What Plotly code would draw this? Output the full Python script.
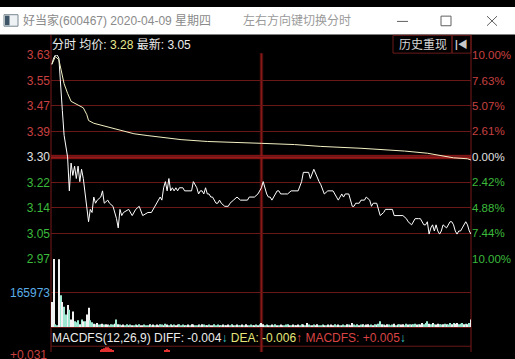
import plotly.graph_objects as go

# ---------------- data ----------------
PREV_CLOSE = 3.30
PRICE_TICKS = [3.63, 3.5475, 3.465, 3.3825, 3.30, 3.2175, 3.135, 3.0525, 2.97]
PRICE_TICK_TEXT = ["3.63", "3.55", "3.47", "3.39", "3.30", "3.22", "3.14", "3.05", "2.97"]
PCT_TICK_TEXT = ["10.00%", "7.63%", "5.07%", "2.61%", "0.00%", "2.42%", "4.88%", "7.44%", "10.00%"]

PRICE_MIN = [0, 1, 2, 3, 4, 5, 6, 7, 8, 9, 10, 11, 12, 13, 14, 15, 16, 17, 18, 19, 20, 21, 22, 23,
             24, 25, 26, 28, 29, 30, 32, 33, 35, 37, 38, 39, 40, 41, 44, 46, 48, 50, 52, 55, 57,
             58, 61, 62, 63, 64, 65, 66, 67, 68, 69, 70, 71, 72, 73, 75, 76, 78, 80, 81, 82, 83,
             84, 85, 86, 87, 88, 89, 90, 91, 92, 93, 94, 95, 96, 97, 99, 101, 102, 104, 106, 108,
             110, 112, 113, 114, 116, 118, 120, 121, 122, 123, 124, 125, 126, 127, 129, 130, 131,
             133, 135, 137, 139, 141, 143, 144, 147, 148, 150, 152, 153, 154, 156, 158, 160, 161,
             163, 164, 165, 166, 167, 168, 169, 170, 172, 173, 174, 176, 177, 179, 180, 182, 183,
             184, 186, 187, 188, 190, 191, 193, 195, 196, 198, 201, 203, 204, 206, 207, 208, 210,
             211, 213, 214, 215, 216, 217, 218, 219, 220, 221, 222, 223, 224, 226, 227, 228, 229,
             230, 231, 232, 233, 234, 235, 236, 237, 238, 239, 240]
PRICE_VAL = [3.60, 3.62, 3.63, 3.63, 3.62, 3.55, 3.45, 3.37, 3.33, 3.30, 3.19, 3.28, 3.24, 3.27, 3.23,
             3.27, 3.22, 3.26, 3.23, 3.18, 3.15, 3.09, 3.13, 3.12,
             3.17, 3.15, 3.16, 3.17, 3.19, 3.15, 3.16, 3.15, 3.14, 3.10, 3.07, 3.13, 3.11, 3.12,
             3.13, 3.11, 3.13, 3.14, 3.11, 3.12, 3.12,
             3.13, 3.16, 3.17, 3.16, 3.20, 3.22, 3.19, 3.23, 3.19, 3.20, 3.19, 3.20, 3.19, 3.20,
             3.20, 3.19, 3.19, 3.19, 3.22, 3.21, 3.20,
             3.18, 3.19, 3.19, 3.18, 3.20, 3.18, 3.18, 3.17, 3.17, 3.16, 3.15, 3.15, 3.16, 3.15,
             3.14, 3.14, 3.15, 3.16, 3.17, 3.16,
             3.16, 3.16, 3.17, 3.17, 3.17, 3.18, 3.20, 3.22, 3.20, 3.18, 3.17, 3.17, 3.16, 3.17,
             3.19, 3.19, 3.18,
             3.18, 3.18, 3.19, 3.19, 3.19, 3.22, 3.25, 3.25, 3.23, 3.26, 3.23, 3.22, 3.21, 3.18,
             3.19, 3.19, 3.19,
             3.17, 3.16, 3.17, 3.18, 3.17, 3.18, 3.18, 3.18, 3.14, 3.14, 3.15, 3.15, 3.16, 3.16,
             3.17, 3.16, 3.14,
             3.15, 3.15, 3.13, 3.11, 3.12, 3.13, 3.13, 3.13, 3.11, 3.11, 3.11, 3.10, 3.09, 3.08,
             3.09, 3.10, 3.10,
             3.10, 3.08, 3.08, 3.09, 3.05, 3.07, 3.08, 3.06, 3.08, 3.06, 3.05, 3.06, 3.08, 3.07,
             3.08, 3.09, 3.09,
             3.08, 3.06, 3.05, 3.06, 3.06, 3.07, 3.08, 3.09, 3.08, 3.06, 3.05]

AVG_MIN = [0, 2, 4, 5, 7, 9, 11, 15, 18, 20, 21, 24, 28, 35, 40, 47, 55, 68, 74, 89, 101, 120,
           139, 154, 177, 196, 202, 215, 225, 230, 238, 240]
AVG_VAL = [3.600, 3.625, 3.615, 3.590, 3.537, 3.506, 3.480, 3.468, 3.459, 3.437, 3.418, 3.409,
           3.403, 3.393, 3.384, 3.375, 3.369, 3.359, 3.356, 3.350, 3.347, 3.344, 3.340, 3.334,
           3.328, 3.322, 3.319, 3.312, 3.303, 3.297, 3.294, 3.290]

VOL_MID = 165973
VOL_MAX = 331946
VOLUME = [
    122000, 331000, 14000, 9000, 330000, 154000, 122000, 98000, 61000, 107000, 84000, 37000,
    75000, 28000, 23000, 33000, 14000, 37000, 28000, 28000, 61000, 94000, 33000, 23000,
    16000, 14000, 19000, 12000, 14000, 16000, 12000, 14000, 12000, 9000, 14000, 12000, 16000, 37000, 14000, 12000,
    9000, 12000, 9000, 14000, 9000, 12000, 9000, 9000, 12000, 9000, 14000, 9000, 9000, 12000, 9000, 9000, 14000, 9000, 12000, 9000,
    12000, 9000, 14000, 12000, 9000, 16000, 12000, 9000, 14000, 9000, 12000, 9000, 12000, 14000, 9000, 12000, 9000, 9000, 12000, 9000,
    14000, 12000, 9000, 9000, 12000, 9000, 14000, 12000, 9000, 9000, 12000, 9000, 9000, 14000, 9000, 12000, 9000, 9000, 12000, 9000,
    9000, 12000, 9000, 14000, 9000, 9000, 12000, 9000, 9000, 12000, 9000, 14000, 9000, 9000, 12000, 9000, 9000, 12000, 9000, 14000,
    19000, 14000, 9000, 12000, 9000, 9000, 12000, 9000, 14000, 9000, 9000, 12000, 9000, 9000, 12000, 14000, 9000, 9000, 12000, 9000,
    9000, 12000, 9000, 14000, 12000, 9000, 19000, 12000, 9000, 9000, 12000, 9000, 14000, 9000, 9000, 12000, 9000, 9000, 12000, 9000,
    12000, 9000, 14000, 9000, 12000, 9000, 9000, 12000, 9000, 14000, 12000, 9000, 19000, 12000, 9000, 14000, 9000, 12000, 14000, 9000,
    12000, 14000, 9000, 12000, 9000, 14000, 12000, 16000, 28000, 14000, 12000, 9000, 14000, 12000, 9000, 12000, 16000, 9000, 12000, 14000,
    12000, 14000, 9000, 16000, 12000, 14000, 12000, 14000, 16000, 12000, 14000, 12000, 19000, 14000, 19000, 28000, 16000, 14000, 19000, 14000,
    12000, 16000, 14000, 12000, 14000, 16000, 14000, 12000, 19000, 14000, 19000, 16000, 19000, 14000, 16000, 19000, 14000, 16000, 14000, 19000, 37000,
]

MACD_MIN = [28, 29, 30, 31, 32, 33, 34, 35, 65, 66, 67]
MACD_VAL = [0.027, 0.028, 0.029, 0.030, 0.030, 0.029, 0.028, 0.027, 0.027, 0.028, 0.027]
MACD_TOP_LABEL = "+0.031"
MID_MINUTE = 120

TITLE = "好当家(600467) 2020-04-09 星期四"
HINT = "左右方向键切换分时"

# ---------------- styling ----------------
W, H = 515, 359
FONT = "Liberation Sans, Noto Sans CJK SC, sans-serif"
RED_T = "#c84040"
GREEN_T = "#3cba3c"
WHITE_T = "#e0e0e0"
BLUE_T = "#5aaee8"
GRID = "#6a1717"
UP_BAR = "#f2f2f2"
DN_BAR = "#9ee8d2"


def px(x):
    return x / W


def py(y):
    return 1 - y / H


def tick_color(v):
    if abs(v - PREV_CLOSE) < 1e-9:
        return WHITE_T
    return RED_T if v > PREV_CLOSE else GREEN_T


left_text = [f'<span style="color:{tick_color(v)}">{t}</span>' for v, t in zip(PRICE_TICKS, PRICE_TICK_TEXT)]
right_text = [f'<span style="color:{tick_color(v)}">{t}</span>' for v, t in zip(PRICE_TICKS, PCT_TICK_TEXT)]

pattern = "wwccwcwccwcwwcccwcwc"
bar_colors = [UP_BAR if pattern[i % len(pattern)] == "w" else DN_BAR for i in range(len(VOLUME))]

fig = go.Figure()
fig.add_trace(go.Scatter(x=PRICE_MIN, y=PRICE_VAL, xaxis="x", yaxis="y", mode="lines",
                         line=dict(color="#ffffff", width=1)))
fig.add_trace(go.Scatter(x=AVG_MIN, y=AVG_VAL, xaxis="x", yaxis="y2", mode="lines",
                         line=dict(color="#f4f0c4", width=1)))
fig.add_trace(go.Bar(x=list(range(len(VOLUME))), y=VOLUME, xaxis="x2", yaxis="y3",
                     marker=dict(color=bar_colors, line=dict(width=0)), width=0.6))
fig.add_trace(go.Bar(x=MACD_MIN, y=MACD_VAL, xaxis="x3", yaxis="y4",
                     marker=dict(color="#e03030", line=dict(width=0)), width=0.6))

XDOM = [px(51), px(471)]
XR = [-0.5, 240]
PRICE_DOM = [py(262), py(50)]
VOL_DOM = [py(333), py(262)]
MACD_DOM = [0, py(353)]

axis_common = dict(zeroline=False, showline=False, ticks="")
fig.update_layout(
    width=W, height=H, margin=dict(l=0, r=0, t=0, b=0, pad=0),
    paper_bgcolor="#000000", plot_bgcolor="#000000",
    showlegend=False, hovermode=False,
    font=dict(family=FONT, size=12, color=WHITE_T),
    xaxis=dict(domain=XDOM, range=XR, visible=False, anchor="y"),
    xaxis2=dict(domain=XDOM, range=XR, visible=False, anchor="y3", matches="x"),
    xaxis3=dict(domain=XDOM, range=XR, visible=False, anchor="y4", matches="x"),
    yaxis=dict(domain=PRICE_DOM, range=[PRICE_TICKS[-1], PRICE_TICKS[0]], anchor="x",
               tickmode="array", tickvals=PRICE_TICKS, ticktext=left_text,
               showgrid=True, gridcolor=GRID, gridwidth=1,
               tickfont=dict(family=FONT, size=12), **axis_common),
    yaxis2=dict(overlaying="y", side="right", anchor="x",
                range=[PRICE_TICKS[-1], PRICE_TICKS[0]],
                tickmode="array", tickvals=PRICE_TICKS, ticktext=right_text,
                showgrid=False, tickfont=dict(family=FONT, size=11.5), **axis_common),
    yaxis3=dict(domain=VOL_DOM, range=[0, VOL_MAX], anchor="x2",
                tickmode="array", tickvals=[VOL_MID],
                ticktext=[f'<span style="color:{BLUE_T}">{VOL_MID}</span>'],
                showgrid=True, gridcolor=GRID, gridwidth=1,
                tickfont=dict(family=FONT, size=12), **axis_common),
    yaxis4=dict(domain=MACD_DOM, range=[0.025, 0.031], anchor="x3",
                showticklabels=False, showgrid=False, **axis_common),
)

shapes = []
# title bar
shapes.append(dict(type="rect", xref="paper", yref="paper", x0=0, x1=1, y0=py(28.5), y1=1,
                   fillcolor="#ffffff", line=dict(width=0), layer="above"))
# window icon
shapes.append(dict(type="rect", xref="paper", yref="paper", x0=px(4), x1=px(18), y0=py(20), y1=py(8),
                   fillcolor="#eef2f4", line=dict(color="#7a8890", width=1), layer="above"))
shapes.append(dict(type="rect", xref="paper", yref="paper", x0=px(5), x1=px(9.5), y0=py(19), y1=py(9),
                   fillcolor="#3d5566", line=dict(width=0), layer="above"))
# window controls
shapes.append(dict(type="line", xref="paper", yref="paper", x0=px(397), x1=px(408), y0=py(15), y1=py(15),
                   line=dict(color="#606060", width=1), layer="above"))
shapes.append(dict(type="rect", xref="paper", yref="paper", x0=px(441), x1=px(451), y0=py(19.5), y1=py(9.5),
                   line=dict(color="#606060", width=1), layer="above"))
shapes.append(dict(type="line", xref="paper", yref="paper", x0=px(487), x1=px(497), y0=py(9.5), y1=py(19.5),
                   line=dict(color="#606060", width=1), layer="above"))
shapes.append(dict(type="line", xref="paper", yref="paper", x0=px(487), x1=px(497), y0=py(19.5), y1=py(9.5),
                   line=dict(color="#606060", width=1), layer="above"))
# borders
for xx in (51, 471):
    shapes.append(dict(type="line", xref="paper", yref="paper", x0=px(xx), x1=px(xx), y0=0, y1=py(29),
                       line=dict(color="#7a1a1a", width=1), layer="below"))
for yy in (333.5, 353):
    shapes.append(dict(type="line", xref="paper", yref="paper", x0=px(51), x1=px(471), y0=py(yy), y1=py(yy),
                       line=dict(color=GRID, width=1), layer="below"))
# history button box
shapes.append(dict(type="rect", xref="paper", yref="paper", x0=px(393), x1=px(452), y0=py(48), y1=py(29.5),
                   line=dict(color="#6a1a1a", width=1), layer="above"))
shapes.append(dict(type="rect", xref="paper", yref="paper", x0=px(452), x1=px(471), y0=py(48), y1=py(29.5),
                   line=dict(color="#6a1a1a", width=1), layer="above"))
# midday divider with soft glow
shapes.append(dict(type="line", xref="x", yref="paper", x0=MID_MINUTE, x1=MID_MINUTE, y0=0, y1=py(48),
                   line=dict(color="rgba(140,25,25,0.25)", width=4), layer="below"))
shapes.append(dict(type="line", xref="x", yref="paper", x0=MID_MINUTE, x1=MID_MINUTE, y0=0, y1=py(48),
                   line=dict(color="#861818", width=2), layer="below"))
# previous close line
shapes.append(dict(type="line", xref="paper", yref="y", x0=px(51), x1=px(471), y0=PREV_CLOSE, y1=PREV_CLOSE,
                   line=dict(color="rgba(150,20,20,0.3)", width=5), layer="below"))
shapes.append(dict(type="line", xref="paper", yref="y", x0=px(51), x1=px(471), y0=PREV_CLOSE, y1=PREV_CLOSE,
                   line=dict(color="#9c1818", width=3.5), layer="below"))
fig.update_layout(shapes=shapes)

ann = []


def note(text, x, y, xanchor="left", yanchor="middle", size=12, color=WHITE_T):
    ann.append(dict(text=text, xref="paper", yref="paper", x=px(x), y=py(y), xanchor=xanchor,
                    yanchor=yanchor, showarrow=False, font=dict(family=FONT, size=size, color=color),
                    borderpad=0))


note(TITLE, 22, 14.5, size=12, color="#8a8a8a")
note(HINT, 242, 14.5, size=12, color="#9a9a9a")
note('分时 均价: <span style="color:#e8e890">3.28</span> 最新: 3.05', 51, 39.5, size=12, color="#ececec")
note("历史重现", 422.5, 39.5, xanchor="center", size=12, color="#d6d6d6")
note("<b>|◀</b>", 461.5, 39.5, xanchor="center", size=10, color="#c8c8c8")
note('MACDFS(12,26,9) DIFF: -0.004<span style="color:#3cc8c8">↓</span> '
     '<span style="color:#e6e67a">DEA: -0.006</span><span style="color:#e04040">↑</span> '
     '<span style="color:#d84444">MACDFS: +0.005</span><span style="color:#3cc8c8">↓</span>',
     51, 344.5, size=12, color="#ececec")
note(MACD_TOP_LABEL, 48, 353.5, xanchor="right", yanchor="top", size=12, color=RED_T)
fig.update_layout(annotations=ann)

fig.write_html("out.html", config={"displayModeBar": False})
